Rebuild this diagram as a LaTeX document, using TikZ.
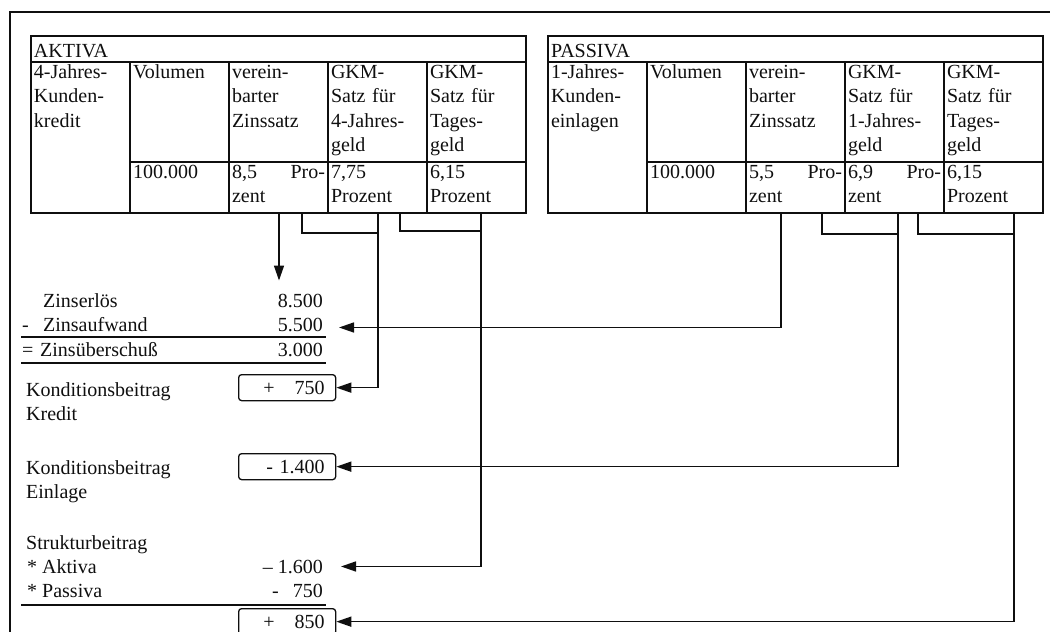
\documentclass[tikz,border=0pt]{standalone}
\usepackage{fontspec}
\setmainfont{Liberation Serif}
\usetikzlibrary{positioning,arrows.meta,calc}
\definecolor{ScanInk}{RGB}{15,15,15}

\begin{document}
\begin{tikzpicture}[x=1pt, y=-1pt, every node/.style={font=\fontsize{20}{24.5}\selectfont, text=ScanInk}]
  \tikzset{
    cell/.style={draw=ScanInk, line width=1.5pt, anchor=north west, align=left, outer sep=0pt,
      inner xsep=3pt, inner ysep=2pt, text width=93pt, text height=14pt},
    headrow/.style={cell, text width=489pt, text height=19pt, text depth=3pt},
    tall/.style={text depth=82pt},
    low/.style={text depth=33pt},
    full/.style={text depth=133pt},
    lbl/.style={anchor=base west, inner sep=0pt},
    num/.style={anchor=base east, inner sep=0pt},
    valbox/.style={draw=ScanInk, line width=1.3pt, rounded corners=3pt, anchor=north west,
      inner xsep=11pt, inner ysep=0pt, text width=75pt, align=right, minimum height=26pt},
    arr/.style={-{Triangle[length=15pt,width=10pt]}, line width=1.5pt, ScanInk},
    link/.style={line width=1.3pt, ScanInk}
  }
  \useasboundingbox (0,0) rectangle (1050,632);
  \draw[link, line width=1.5pt] (10,632) -- (10,12) -- (1050,12);

  % AKTIVA
  \node[headrow] (akt) at (31,36) {AKTIVA};
  \node[cell, full] (a1) at (akt.south west) {4-Jahres-\\Kunden-\\kredit};
  \node[cell, tall] (a2) at (a1.north east) {Volumen};
  \node[cell, tall] (a3) at (a2.north east) {verein-\\barter\\Zinssatz};
  \node[cell, tall] (a4) at (a3.north east) {GKM-\\Satz für\\4-Jahres-\\geld};
  \node[cell, tall] (a5) at (a4.north east) {GKM-\\Satz für\\Tages-\\geld};
  \node[cell, low] (a2v) at (a2.south west) {100.000};
  \node[cell, low] (a3v) at (a3.south west) {8,5\hfill Pro-\\zent};
  \node[cell, low] (a4v) at (a4.south west) {7,75\\Prozent};
  \node[cell, low] (a5v) at (a5.south west) {6,15\\Prozent};

  % PASSIVA
  \node[headrow] (pas) at (548,36) {PASSIVA};
  \node[cell, full] (p1) at (pas.south west) {1-Jahres-\\Kunden-\\einlagen};
  \node[cell, tall] (p2) at (p1.north east) {Volumen};
  \node[cell, tall] (p3) at (p2.north east) {verein-\\barter\\Zinssatz};
  \node[cell, tall] (p4) at (p3.north east) {GKM-\\Satz für\\1-Jahres-\\geld};
  \node[cell, tall] (p5) at (p4.north east) {GKM-\\Satz für\\Tages-\\geld};
  \node[cell, low] (p2v) at (p2.south west) {100.000};
  \node[cell, low] (p3v) at (p3.south west) {5,5\hfill Pro-\\zent};
  \node[cell, low] (p4v) at (p4.south west) {6,9\hfill Pro-\\zent};
  \node[cell, low] (p5v) at (p5.south west) {6,15\\Prozent};

  % Ergebnisrechnung
  \node[lbl] (erloes) at (43,307) {Zinserlös};
  \node[num] (v8500) at (323,307) {8.500};
  \node[lbl] (aufwand) at (22,331) {\makebox[21pt][l]{-}Zinsaufwand};
  \node[num] (v5500) at (323,331) {5.500};
  \draw[link] (21,337) -- (326,337);
  \node[lbl] (ueberschuss) at (22,356) {\makebox[18pt][l]{=}Zinsüberschuß};
  \node[num] (v3000) at (323,356) {3.000};
  \draw[link] (21,363) -- (326,363);
  \node[lbl] (kbkredit) at (26,396) {Konditionsbeitrag};
  \node[lbl] (kredit) at (26,420) {Kredit};
  \node[valbox] (v750) at (238,374) {+\quad 750};
  \node[lbl] (kbeinlage) at (26,474) {Konditionsbeitrag};
  \node[lbl] (einlage) at (26,498) {Einlage};
  \node[valbox] (v1400) at (238,453) {- 1.400};
  \node[lbl] (struktur) at (26,549) {Strukturbeitrag};
  \node[lbl] (aktiva) at (27,573) {* Aktiva};
  \node[num] (v1600) at (323,573) {– 1.600};
  \node[lbl] (passiva) at (27,597) {* Passiva};
  \node[num] (v750b) at (323,597) {-\hspace{14pt}750};
  \draw[link] (21,605) -- (326,605);
  \node[valbox] (v850) at (238,608) {+\quad 850};

  % Verbindungen Aktiva
  \draw[arr, shorten >=13pt] ([xshift=50pt]a3v.south west) -- ([xshift=50pt]a3v.south west |- v8500.north);
  \draw[link] ([xshift=73pt]a3v.south west) -- ++(0,20) -| ([xshift=50pt]a4v.south west);
  \draw[arr] ([xshift=50pt]a4v.south west) |- (v750.east);
  \draw[link] ([xshift=72pt]a4v.south west) -- ++(0,18) -| ([xshift=54pt]a5v.south west);
  \draw[arr] ([xshift=54pt]a5v.south west) |- ([xshift=18pt]v1600.east);

  % Verbindungen Passiva
  \draw[arr] ([xshift=35pt]p3v.south west) |- ([xshift=16pt,yshift=-3pt]v5500.east);
  \draw[link] ([xshift=76pt]p3v.south west) -- ++(0,21) -| ([xshift=53pt]p4v.south west);
  \draw[arr] ([xshift=53pt]p4v.south west) |- (v1400.east);
  \draw[link] ([xshift=73pt]p4v.south west) -- ++(0,21) -| ([xshift=70pt]p5v.south west);
  \draw[arr] ([xshift=70pt]p5v.south west) |- (v850.east);
\end{tikzpicture}
\end{document}
